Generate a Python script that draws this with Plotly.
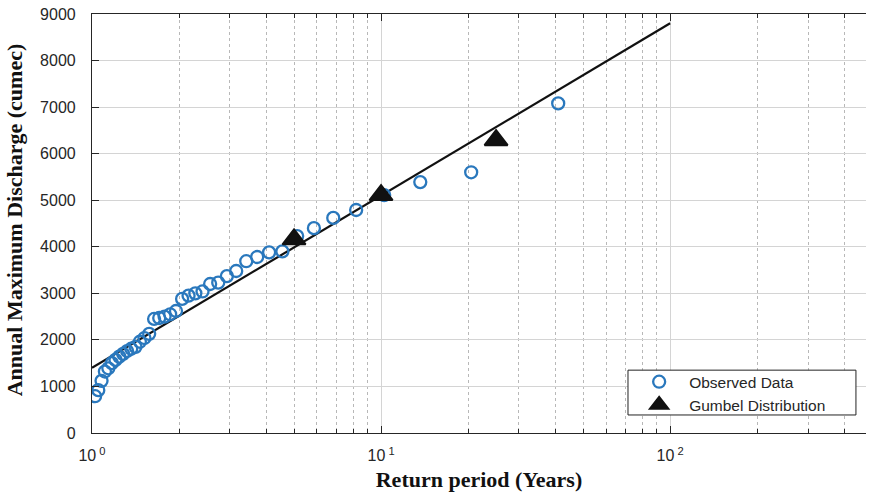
import numpy as np
import plotly.graph_objects as go

# Observed annual maxima, sorted ascending, with Weibull return periods T = (n+1)/m
n_years = 40
observed_q = [790, 920, 1120, 1320, 1390, 1500, 1570, 1640, 1700, 1760,
              1810, 1850, 1960, 2040, 2130, 2450, 2470, 2500, 2550, 2620,
              2880, 2950, 3000, 3040, 3200, 3230, 3370, 3480, 3690, 3780,
              3880, 3900, 4230, 4400, 4620, 4790, 5110, 5390, 5600, 7080]
ranks = list(range(n_years, 0, -1))
observed_t = [(n_years + 1) / m for m in ranks]

# Gumbel (EV-I) quantiles at selected return periods
gumbel_t = [5, 10, 25]
gumbel_q = [4160, 5110, 6290]

# Fitted straight line on the log-T axis
fit_t = [1, 100]
fit_q = [1400, 8800]

y_ticks = list(range(0, 9001, 1000))
x_major = [1, 10, 100]
x_major_text = ["10<sup> 0</sup>", "10<sup> 1</sup>", "10<sup> 2</sup>"]
x_minor = [k * 10 ** e for e in range(0, 3) for k in range(2, 10)]

fig = go.Figure()

fig.add_trace(go.Scatter(
    x=fit_t, y=fit_q, mode="lines",
    line=dict(color="#111111", width=2.2),
    showlegend=False, hoverinfo="skip",
))
fig.add_trace(go.Scatter(
    x=observed_t, y=observed_q, mode="markers", name="Observed Data",
    marker=dict(symbol="circle-open", size=12, color="#2a78bd",
                line=dict(width=2.3, color="#2a78bd")),
))
fig.add_trace(go.Scatter(
    x=gumbel_t, y=gumbel_q, mode="markers", name="Gumbel Distribution",
    marker=dict(symbol="triangle-up", size=20, color="#111111",
                line=dict(width=2, color="#111111")),
))

tick_font = dict(family="Liberation Sans, Arial, sans-serif", size=16, color="#262626")
title_font = dict(family="Liberation Serif, Times New Roman, serif", size=22, color="#111111")

# Legend frame drawn as a white box with a thin dark border
fig.add_shape(
    type="rect", xref="paper", yref="paper",
    x0=0.6925, x1=0.987, y0=0.043, y1=0.150,
    fillcolor="white", line=dict(color="#222222", width=1), layer="above",
)

# Vertical axis title placed close to the page edge
fig.add_annotation(
    text="<b>Annual Maximum Discharge (cumec)</b>",
    xref="paper", yref="paper", x=-0.1008, y=0.51,
    xanchor="center", yanchor="middle", textangle=-90,
    showarrow=False, font=title_font,
)

fig.update_layout(
    width=869, height=497,
    margin=dict(l=92, r=3, t=14, b=64),
    paper_bgcolor="white", plot_bgcolor="white",
    legend=dict(
        x=0.694, y=0.162, xanchor="left", yanchor="top",
        bgcolor="rgba(0,0,0,0)", borderwidth=0,
        font=dict(family="Liberation Sans, Arial, sans-serif", size=15.5, color="#262626"),
        itemwidth=50, tracegroupgap=0,
    ),
)

fig.update_xaxes(
    type="log", range=[0, np.log10(476)],
    title=dict(text="<b>Return period (Years)</b>", font=title_font, standoff=8),
    tickmode="array", tickvals=x_major, ticktext=x_major_text,
    tickfont=tick_font, ticks="inside", ticklen=7, tickcolor="#262626",
    ticklabelstandoff=8,
    showline=True, linecolor="#262626", linewidth=1.2, mirror="ticks",
    showgrid=True, gridcolor="#d4d4d4", gridwidth=1.2,
    zeroline=False,
    minor=dict(tickmode="array", tickvals=x_minor, ticks="inside", ticklen=4,
               tickcolor="#262626", showgrid=True, gridcolor="#b8b8b8",
               griddash="dot", gridwidth=1),
)
fig.update_yaxes(
    range=[0, 9000],
    tickmode="array", tickvals=y_ticks,
    tickfont=tick_font, ticks="inside", ticklen=7, tickcolor="#262626",
    ticklabelstandoff=12,
    showline=True, linecolor="#262626", linewidth=1.2,
    showgrid=True, gridcolor="#d4d4d4", gridwidth=1.2,
    zeroline=False,
)

fig.write_html("out.html")
